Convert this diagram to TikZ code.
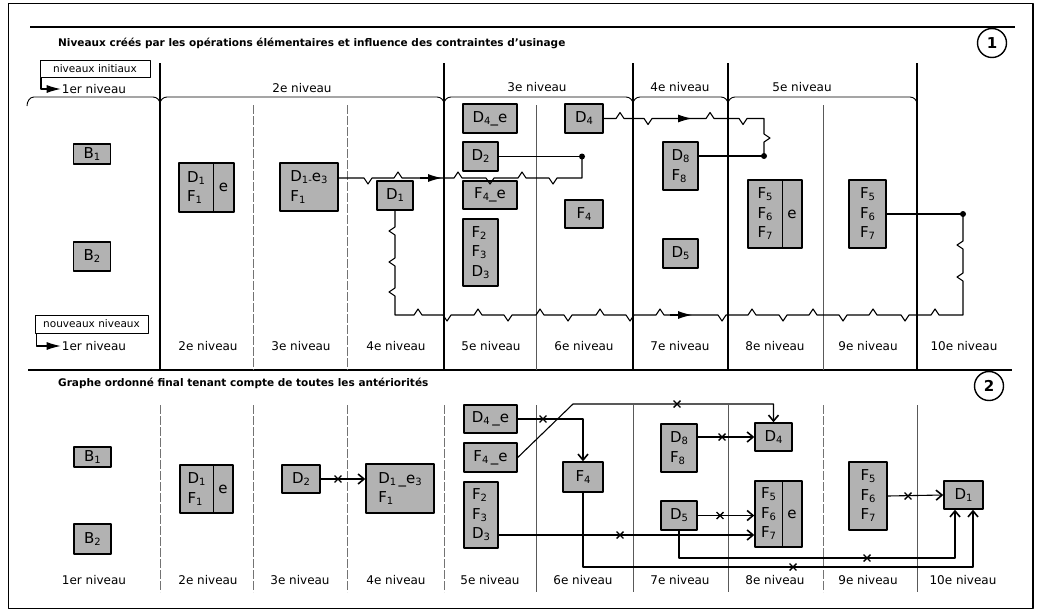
\documentclass[tikz,border=0pt]{standalone}
\usepackage{fontspec}
\setmainfont{DejaVu Sans}
\usetikzlibrary{arrows.meta,shapes.misc}
\newcommand\ix[1]{\raisebox{-0.25ex}{\fontsize{10}{10}\selectfont #1}}
\newcommand\boxfont{\fontsize{15}{19.5}\selectfont}
\newcommand\labfont{\fontsize{12}{14}\selectfont}
\newcommand\keyfont{\fontsize{10.5}{12}\selectfont}
\newcommand\ttlfont{\bfseries\fontsize{10.5}{12}\selectfont}
\newcommand\hup[2]{-- ({#1-4},#2) -- (#1,{#2-6}) -- ({#1+4},#2)}
\newcommand\hdn[2]{-- ({#1-4},#2) -- (#1,{#2+6}) -- ({#1+4},#2)}
\newcommand\vdl[2]{-- (#1,{#2-4}) -- ({#1-6},#2) -- (#1,{#2+4})}
\newcommand\vul[2]{-- (#1,{#2+4}) -- ({#1-6},#2) -- (#1,{#2-4})}
\newcommand\vdr[2]{-- (#1,{#2-4}) -- ({#1+6},#2) -- (#1,{#2+4})}
\begin{document}
\begin{tikzpicture}[x=1pt,y=-1pt,line join=round,
  box/.style={draw,line width=1.4pt,fill=black!30,inner sep=0pt,align=left,font=\boxfont},
  txt/.style={inner sep=0pt,align=left,font=\boxfont},
  lab/.style={font=\labfont,inner sep=1pt},
  key/.style={draw,line width=1pt,font=\keyfont,inner sep=0pt},
  ttl/.style={font=\ttlfont,anchor=west,inner sep=0pt},
  conn/.style={line width=1.1pt},
  farr/.style={conn,-{Latex[length=14pt,width=8pt]}},
  arr/.style={conn,-{Straight Barb[length=6pt,width=10pt,line width=1.6pt]}},
  xm/.style={cross out,draw,line width=1.4pt,minimum size=5.5pt,inner sep=0pt},
  dot/.style={circle,fill,inner sep=0pt,minimum size=6pt},
  sepk/.style={line width=1.8pt},
  sepl/.style={line width=0.9pt,black!65},
  sepd/.style={line width=0.9pt,black!55,dash pattern=on 9pt off 2pt},
  numc/.style={circle,draw,line width=1.4pt,minimum size=29pt,inner sep=0pt,font=\bfseries\fontsize{15}{15}\selectfont}]
\useasboundingbox (0,0) rectangle (1042,613);
\fill[white] (0,0) rectangle (1042,613);
% frame
\draw[line width=1.5pt] (8.5,3.5) rectangle (1033,608.5);
\draw[sepk] (30,27) -- (1015,27);
\draw[sepk] (28,370) -- (1012,370);
% ================= panel 1 =================
\node[ttl] (t1) at (58,43) {Niveaux créés par les opérations élémentaires et influence des contraintes d'usinage};
\node[numc] (c1) at (992,43) {1};
\node[key,minimum width=110pt,minimum height=17pt] (ini) at (95,68.5) {niveaux initiaux};
\node[lab] (top1) at (94,89) {1er niveau};
\draw[farr] ([xshift=1.5pt]ini.south west) |- (top1.west);
\node[lab] (top2) at (302,88) {2e niveau};
\node[lab] (top3) at (537,87) {3e niveau};
\node[lab] (top4) at (680,87) {4e niveau};
\node[lab] (top5) at (802,87) {5e niveau};
\draw[line width=0.9pt] (27,106) to[out=90,in=180] (34,97) -- (153,97) to[out=0,in=90] (160,104)
  to[out=90,in=180] (167,97) -- (437,97) to[out=0,in=90] (444,104)
  to[out=90,in=180] (451,97) -- (626,97) to[out=0,in=90] (633,104)
  to[out=90,in=180] (640,97) -- (721,97) to[out=0,in=90] (728,104)
  to[out=90,in=180] (735,97) -- (910,97) to[out=0,in=90] (917,104);
\foreach \x in {160,444,633,728,917} \draw[sepk] (\x,63) -- (\x,370);
\foreach \x in {253,347} \draw[sepd] (\x,105) -- (\x,370);
\foreach \x in {536,823} \draw[sepl] (\x,105) -- (\x,370);
% bottom labels
\node[key,minimum width=113pt,minimum height=18pt] (nouv) at (91.5,324) {nouveaux niveaux};
\node[lab] (b1) at (94,346) {1er niveau};
\draw[farr] ([xshift=2pt]nouv.south west) |- (b1.west);
\node[lab] (b2) at (208,346) {2e niveau};
\node[lab] (b3) at (301,346) {3e niveau};
\node[lab] (b4) at (396,346) {4e niveau};
\node[lab] (b5) at (491,346) {5e niveau};
\node[lab] (b6) at (584,346) {6e niveau};
\node[lab] (b7) at (680,346) {7e niveau};
\node[lab] (b8) at (775,346) {8e niveau};
\node[lab] (b9) at (868,346) {9e niveau};
\node[lab] (b10) at (964,346) {10e niveau};
% boxes panel 1
\node[box,minimum width=37pt,minimum height=20pt,align=center] (B1a) at (92,154) {B\ix{1}};
\node[box,minimum width=37pt,minimum height=29pt,align=center] (B2a) at (92,256.5) {B\ix{2}};
\node[box,minimum width=55pt,minimum height=49pt] (L2a) at (206.5,187.5) {};
\draw[line width=1pt] (213,163) -- (213,212);
\node[txt] (L2at) at (196,187.5) {D\ix{1}\\F\ix{1}};
\node[txt] (L2ae) at (223.5,187.5) {e};
\node[box,minimum width=58pt,minimum height=48pt] (L3a) at (309,187) {D\ix{1-}e\ix{3}\\F\ix{1}};
\node[box,minimum width=36pt,minimum height=29pt,align=center] (D1a) at (395,195.5) {D\ix{1}};
\node[box,minimum width=54pt,minimum height=29pt,align=center] (D4ea) at (490,118.5) {D\ix{4}\_e};
\node[box,minimum width=35pt,minimum height=29pt,align=center] (D2a) at (480.5,156.5) {D\ix{2}};
\node[box,minimum width=54pt,minimum height=28pt,align=center] (F4ea) at (490,195) {F\ix{4}\_e};
\node[box,minimum width=35pt,minimum height=67pt] (F23a) at (480.5,252.5) {F\ix{2}\\F\ix{3}\\D\ix{3}};
\node[box,minimum width=38pt,minimum height=29pt,align=center] (D4a) at (584,118.5) {D\ix{4}};
\node[box,minimum width=38pt,minimum height=28pt,align=center] (F4a) at (584,214) {F\ix{4}};
\node[box,minimum width=35pt,minimum height=48pt] (D8a) at (680.5,166) {D\ix{8}\\F\ix{8}};
\node[box,minimum width=35pt,minimum height=29pt,align=center] (D5a) at (680.5,253.5) {D\ix{5}};
\node[box,minimum width=54pt,minimum height=68pt] (F5ea) at (775,214) {};
\draw[line width=1pt] (782,180) -- (782,248);
\node[txt] (F5eat) at (765,214) {F\ix{5}\\F\ix{6}\\F\ix{7}};
\node[txt] (F5eae) at (792,214) {e};
\node[box,minimum width=37pt,minimum height=68pt] (F5a) at (867.5,214) {F\ix{5}\\F\ix{6}\\F\ix{7}};
% connectors panel 1
\node[dot] (dot1) at (582,156.5) {};
\node[dot] (dot2) at (764,156) {};
\node[dot] (dot3) at (963,214) {};
\draw[conn] (L3a.east |- 0,178) \hdn{368}{178} \hup{398}{178} \hup{458}{178} \hdn{490}{178} \hup{522}{178} \hdn{553}{178} -- (582,178) -- (dot1.center);
\draw[farr] (420,178) -- (442,178);
\draw[conn] (D2a.east) -- (dot1.center);
\draw[conn] (D4a.east) \hup{620}{118.5} \hdn{648}{118.5} \hup{710}{118.5} \hdn{743}{118.5} -- (764,118.5) \vdr{764}{138} -- (dot2.center);
\draw[farr] (670,118.5) -- (692,118.5);
\draw[conn] (D8a.east |- dot2) -- (dot2.center);
\draw[conn] (D1a.south) \vdl{395}{231} \vdl{395}{262} \vdl{395}{292} -- (395,315)
  \hup{418}{315} \hdn{447}{315} \hup{478}{315} \hdn{508}{315} \hup{540}{315} \hdn{568}{315}
  \hup{600}{315} \hdn{630}{315} \hup{660}{315} \hdn{722}{315} \hup{752}{315} \hdn{783}{315}
  \hup{813}{315} \hdn{843}{315} \hup{873}{315} \hdn{905}{315} \hup{935}{315} -- (963,315)
  \vul{963}{277} \vul{963}{245} -- (dot3.center);
\draw[farr] (670,315) -- (692,315);
\draw[conn] (F5a.east) -- (dot3.center);
% ================= panel 2 =================
\node[ttl] (t2) at (58,383) {Graphe ordonné final tenant compte de toutes les antériorités};
\node[numc] (c2) at (989,386) {2};
\foreach \x in {160,253,347,444,823} \draw[sepd] (\x,405) -- (\x,592);
\foreach \x in {536,633,728,917} \draw[sepl] (\x,405) -- (\x,592);
\node[lab] (d1) at (94,580) {1er niveau};
\node[lab] (d2) at (208,580) {2e niveau};
\node[lab] (d3) at (300,580) {3e niveau};
\node[lab] (d4) at (396,580) {4e niveau};
\node[lab] (d5) at (490,580) {5e niveau};
\node[lab] (d6) at (583,580) {6e niveau};
\node[lab] (d7) at (680,580) {7e niveau};
\node[lab] (d8) at (775,580) {8e niveau};
\node[lab] (d9) at (868,580) {9e niveau};
\node[lab] (d10) at (963,580) {10e niveau};
\node[box,minimum width=37pt,minimum height=20pt,align=center] (B1b) at (92.5,457) {B\ix{1}};
\node[box,minimum width=37pt,minimum height=30pt,align=center] (B2b) at (92.5,539) {B\ix{2}};
\node[box,minimum width=53pt,minimum height=48pt] (L2b) at (206.5,489) {};
\draw[line width=1pt] (213,465) -- (213,513);
\node[txt] (L2bt) at (196.5,489) {D\ix{1}\\F\ix{1}};
\node[txt] (L2be) at (223,489) {e};
\node[box,minimum width=38pt,minimum height=28pt,align=center] (D2b) at (301,479) {D\ix{2}};
\node[box,minimum width=68pt,minimum height=49pt] (L3b) at (400,488.5) {D\ix{1}\,\_e\ix{3}\\F\ix{1}};
\node[box,minimum width=53pt,minimum height=28pt,align=center] (D4eb) at (490.5,419) {D\ix{4}\,\_e};
\node[box,minimum width=53pt,minimum height=29pt,align=center] (F4eb) at (490.5,457.5) {F\ix{4}\,\_e};
\node[box,minimum width=34pt,minimum height=66pt] (F23b) at (481,515) {F\ix{2}\\F\ix{3}\\D\ix{3}};
\node[box,minimum width=40pt,minimum height=30pt,align=center] (F4b) at (583,477) {F\ix{4}};
\node[box,minimum width=36pt,minimum height=48pt] (D8b) at (679,448) {D\ix{8}\\F\ix{8}};
\node[box,minimum width=36pt,minimum height=29pt,align=center] (D5b) at (679,515.5) {D\ix{5}};
\node[box,minimum width=37pt,minimum height=28pt,align=center] (D4b) at (773.5,437) {D\ix{4}};
\node[box,minimum width=47pt,minimum height=66pt] (F5eb) at (778.5,514) {};
\draw[line width=1pt] (782,481) -- (782,547);
\node[txt] (F5ebt) at (768.5,514) {F\ix{5}\\F\ix{6}\\F\ix{7}};
\node[txt] (F5ebe) at (792,514) {e};
\node[box,minimum width=38pt,minimum height=68pt] (F5b) at (868,496) {F\ix{5}\\F\ix{6}\\F\ix{7}};
\node[box,minimum width=39pt,minimum height=28pt,align=center] (D1b) at (963.5,495) {D\ix{1}};
% connectors panel 2
\coordinate (k1) at (573,404);
\draw[arr] (D2b.east) -- (D2b.east -| L3b.west);
\draw[arr] (D4eb.east) -| (F4b.north);
\draw[arr] (F4eb.east) -- (k1) -| (D4b.north);
\draw[arr] (D8b.east |- D4b.west) -- (D4b.west);
\draw[arr] (D5b.east) -- (D5b.east -| F5eb.west);
\draw[arr] (F23b.east |- 0,535) -- (F5eb.west |- 0,535);
\draw[arr] (D5b.south) |- ([xshift=-8.5pt]D1b.south |- 0,558) -- ([xshift=-8.5pt]D1b.south);
\draw[arr] (F4b.south) |- ([xshift=9.5pt]D1b.south |- 0,567) -- ([xshift=9.5pt]D1b.south);
\draw[arr] (F5b.east) -- (D1b.west);
\node[xm] (x1) at (338,479) {};
\node[xm] (x2) at (543,419) {};
\node[xm] (x3) at (677,404) {};
\node[xm] (x4) at (722,437) {};
\node[xm] (x5) at (720,515.5) {};
\node[xm] (x6) at (620,535) {};
\node[xm] (x7) at (867,558) {};
\node[xm] (x8) at (793,567) {};
\node[xm] (x9) at (908,496) {};
\end{tikzpicture}
\end{document}
